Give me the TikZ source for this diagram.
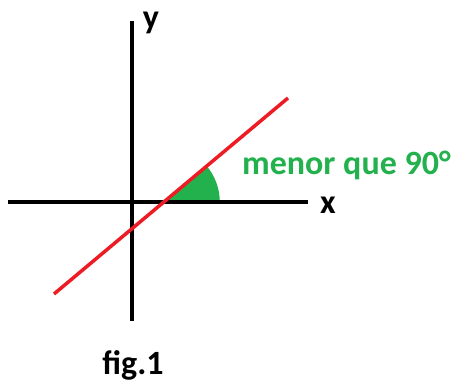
\documentclass[tikz,border=0pt]{standalone}
\usepackage{fontspec}
\setmainfont{Carlito}
\usepackage{tikz}
\usetikzlibrary{positioning,calc}
\usepackage{xcolor}
\definecolor{linered}{HTML}{ED1C24}
\definecolor{anglegreen}{HTML}{22B14C}

\begin{document}
\begin{tikzpicture}[x=1pt, y=1pt,
    axis/.style={draw=black, line width=4pt},
    slope/.style={draw=linered, line width=3.5pt},
    lbl/.style={font=\fontsize{34}{36}\selectfont\bfseries, inner sep=0pt},
]
\useasboundingbox (0,0) rectangle (451,383);
\coordinate (xl) at (8,181); \coordinate (xr) at (308,181);
\coordinate (yb) at (132,62); \coordinate (yt) at (132,362);
\coordinate (la) at (54,89); \coordinate (lb) at (288,285);
\coordinate (o) at (163.8,181);
\fill[anglegreen] (o) -- ++(40:56) arc (40:0:56) -- cycle;
\draw[axis] (xl) -- (xr);
\draw[axis] (yb) -- (yt);
\draw[slope] (la) -- (lb);
\node[lbl] (xlab) at (328,178) {x};
\node[lbl] (ylab) at (151,360) {y};
\node[lbl, anglegreen, anchor=west] (ang) at (242,218) {menor que 90°};
\node[lbl] (fig) at (133,18) {fig.1};
\end{tikzpicture}
\end{document}
